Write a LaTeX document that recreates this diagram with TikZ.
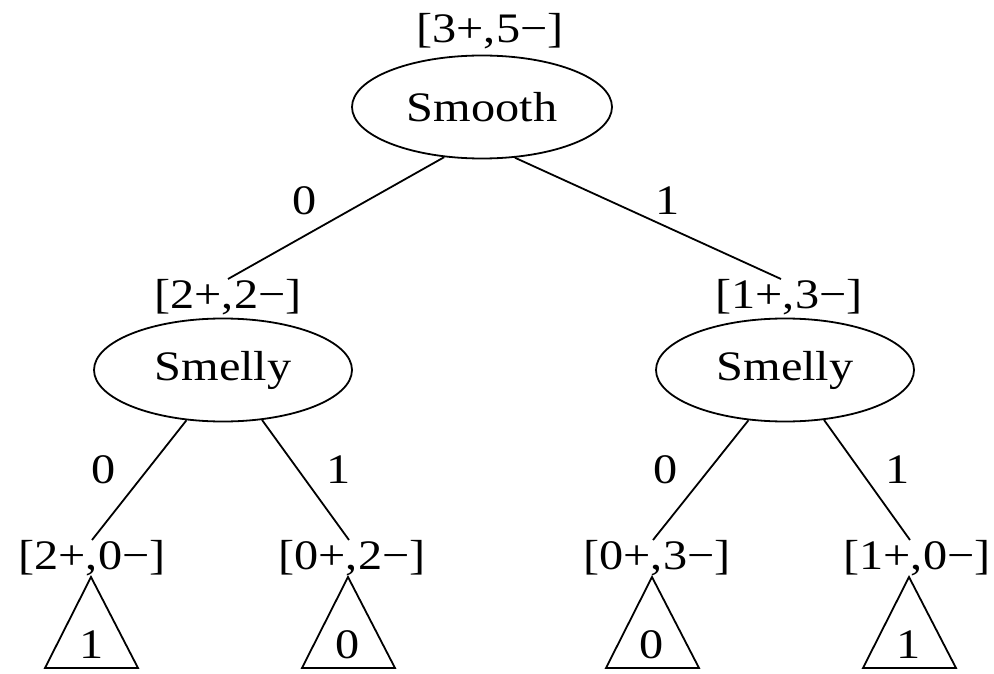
\documentclass[tikz,border=0pt]{standalone}
\usepackage{fontspec}
\setmainfont[FakeStretch=1.15]{Liberation Serif}
\usetikzlibrary{shapes.geometric}
\begin{document}
\begin{tikzpicture}[x=1pt,y=-1pt,
  every node/.style={font=\fontsize{42}{50}\selectfont},
  attr/.style={draw,ellipse,line width=1.8pt,inner sep=0pt,minimum width=258pt,minimum height=103pt},
  cnt/.style={inner sep=0pt},
  lab/.style={inner sep=0pt},
  edge/.style={line width=1.8pt},
  leaf/.style={line width=1.8pt}]
\useasboundingbox (0,0) rectangle (994,674);
% root
\node[cnt] (rc) at (490,31) {[3+,5−]};
\node[attr,minimum width=260pt] (root) at (482,107) {Smooth};
% level 1
\node[cnt] (lc) at (228,297) {[2+,2−]};
\node[attr] (sl) at (223,370) {Smelly};
\node[cnt] (rcnt) at (789,297) {[1+,3−]};
\node[attr] (sr) at (785,370) {Smelly};
\draw[edge] (root.233) -- (lc.north);
\node[lab] (t0) at (305,201) {0};
\node[lab] (t1) at (668,201) {1};
\draw[edge] (root.-57) -- ([xshift=-8pt]rcnt.north);
% leaves counts
\node[cnt] (a) at (92,558) {[2+,0−]};
\node[cnt] (b) at (352,558) {[0+,2−]};
\node[cnt] (c) at (657,558) {[0+,3−]};
\node[cnt] (d) at (917,558) {[1+,0−]};
\draw[edge] (sl.-126) -- (a.north);
\draw[edge] (sl.-52) -- ([xshift=-3pt]b.north);
\draw[edge] (sr.-126) -- ([xshift=-4pt]c.north);
\draw[edge] (sr.-52) -- ([xshift=-7pt]d.north);
\node[lab] (la0) at (104,470) {0};
\node[lab] (la1) at (339,470) {1};
\node[lab] (lb0) at (666,470) {0};
\node[lab] (lb1) at (898,470) {1};
% triangles
\coordinate (pa) at (91,577);
\coordinate (pb) at (348,577);
\coordinate (pc) at (652,577);
\coordinate (pd) at (909,577);
\foreach \p in {pa,pb,pc,pd}{
  \draw[leaf,line join=miter] (\p) -- ++(-46,91) -- ++(93,0) -- cycle;
}
\node[lab] (va) at (92,645) {1};
\node[lab] (vb) at (348,645) {0};
\node[lab] (vc) at (652,645) {0};
\node[lab] (vd) at (909,645) {1};
\end{tikzpicture}
\end{document}
